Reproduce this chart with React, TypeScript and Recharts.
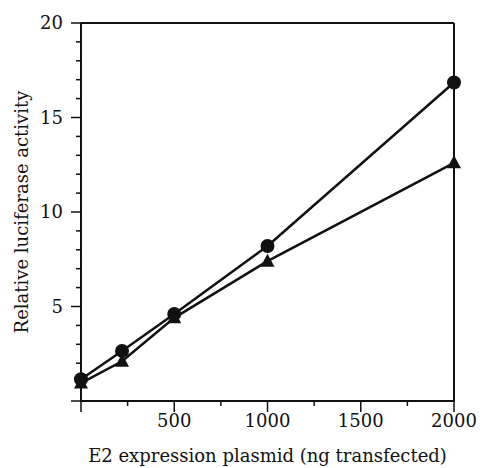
import { LineChart, Line, XAxis, YAxis, ReferenceLine } from "recharts";

const doses = [0, 220, 500, 1000, 2000];
const circleSeries = [1.15, 2.65, 4.6, 8.2, 16.85];
const triangleSeries = [0.95, 2.1, 4.4, 7.4, 12.6];
const xTicks = [0, 250, 500, 750, 1000, 1250, 1500, 1750, 2000];
const yTicks = [0, 1, 2, 3, 4, 5, 6, 7, 8, 9, 10, 11, 12, 13, 14, 15, 16, 17, 18, 19, 20];

const data = doses.map((d, i) => ({
  dose: d,
  circle: circleSeries[i],
  triangle: triangleSeries[i],
}));

const FONT = "DejaVu Serif";
const INK = "#111";
const txt = { fontFamily: FONT };

const XTick = ({ x, y, payload }: any) => {
  const v = payload.value;
  const major = v % 500 === 0;
  return (
    <g>
      <line x1={x} y1={y} x2={x} y2={y + (major ? 11 : 5)} stroke={INK} strokeWidth={1.5} />
      {major && v !== 0 && (
        <text x={x} y={y + 26} textAnchor="middle" fontSize={18} style={txt} fill={INK}>
          {v}
        </text>
      )}
    </g>
  );
};

const YTick = ({ x, y, payload }: any) => {
  const v = payload.value;
  const major = v % 5 === 0;
  return (
    <g>
      <line x1={x} y1={y} x2={x - (major ? 10 : 5)} y2={y} stroke={INK} strokeWidth={1.5} />
      {major && v !== 0 && (
        <text x={x - 18} y={y} dy="0.35em" textAnchor="end" fontSize={18} style={txt} fill={INK}>
          {v}
        </text>
      )}
    </g>
  );
};

const Triangle = ({ cx, cy }: any) => (
  <polygon
    points={`${cx},${cy - 7.5} ${cx - 7},${cy + 5.5} ${cx + 7},${cy + 5.5}`}
    fill={INK}
  />
);

const Circle = ({ cx, cy }: any) => <circle cx={cx} cy={cy} r={7} fill={INK} />;

export default function App() {
  return (
    <div style={{ width: 480, height: 468 }}>
      <style>{`body{margin:0}`}</style>
      <LineChart width={480} height={468} data={data} margin={{ top: 23, right: 26, left: 0, bottom: 0 }}>
        <XAxis
          dataKey="dose"
          type="number"
          domain={[0, 2000]}
          ticks={xTicks}
          interval={0}
          height={67}
          tickSize={0}
          tickMargin={0}
          tickLine={false}
          tick={<XTick />}
          axisLine={{ stroke: INK, strokeWidth: 2 }}
          label={{
            content: ({ viewBox }: any) => (
              <text
                x={viewBox.x + viewBox.width / 2}
                y={462}
                textAnchor="middle"
                fontSize={18}
                style={txt}
                fill={INK}
              >
                E2 expression plasmid (ng transfected)
              </text>
            ),
          }}
        />
        <YAxis
          type="number"
          domain={[0, 20]}
          ticks={yTicks}
          interval={0}
          width={81}
          tickSize={0}
          tickMargin={0}
          tickLine={false}
          tick={<YTick />}
          axisLine={{ stroke: INK, strokeWidth: 2 }}
          label={{
            content: ({ viewBox }: any) => {
              const cy = viewBox.y + viewBox.height / 2;
              return (
                <text
                  x={22}
                  y={cy}
                  dy="0.35em"
                  transform={`rotate(-90, 22, ${cy})`}
                  textAnchor="middle"
                  fontSize={18}
                  style={txt}
                  fill={INK}
                >
                  Relative luciferase activity
                </text>
              );
            },
          }}
        />
        <ReferenceLine y={20} stroke={INK} strokeWidth={2} />
        <ReferenceLine x={2000} stroke={INK} strokeWidth={2} />
        <Line
          dataKey="triangle"
          stroke={INK}
          strokeWidth={2.5}
          dot={<Triangle />}
          activeDot={false}
          isAnimationActive={false}
        />
        <Line
          dataKey="circle"
          stroke={INK}
          strokeWidth={2.5}
          dot={<Circle />}
          activeDot={false}
          isAnimationActive={false}
        />
      </LineChart>
    </div>
  );
}
